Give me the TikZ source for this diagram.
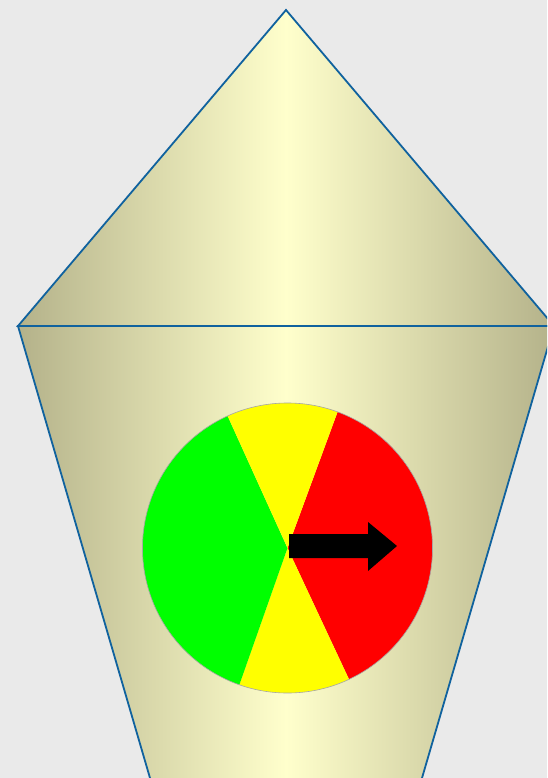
\documentclass[tikz,border=0pt]{standalone}
\begin{document}
\begin{tikzpicture}[x=1pt,y=-1pt]
\definecolor{bgc}{RGB}{234,234,234}
\definecolor{tanc}{RGB}{180,178,138}
\definecolor{lightc}{RGB}{255,255,204}
\definecolor{edgec}{RGB}{16,98,158}
\definecolor{grn}{RGB}{0,255,0}
\definecolor{yel}{RGB}{255,255,0}
\definecolor{rd}{RGB}{255,0,0}
\tikzset{
  body/.style={left color=tanc, right color=tanc, middle color=lightc, draw=edgec, line width=1.8pt, line join=miter}
}
\useasboundingbox (0,0) rectangle (547,778);
\clip (0,0) rectangle (547,778);
\fill[bgc] (0,0) rectangle (547,778);
\coordinate (tl) at (18,326);
\coordinate (tr) at (554,326);
\coordinate (apex) at (286,10);
\coordinate (bl) at (153.5,790);
\coordinate (br) at (418.5,790);
% lower body
\shade[body] (tl) -- (tr) -- (br) -- (bl) -- cycle;
% top triangle
\shade[body] (tl) -- (apex) -- (tr) -- cycle;
% wheel
\coordinate (c) at (287.5,548);
\fill[rd] (c) -- ++(-69.8:145) arc[start angle=-69.8, end angle=64.9, radius=145] -- cycle;
\fill[yel] (c) -- ++(64.9:145) arc[start angle=64.9, end angle=109.4, radius=145] -- cycle;
\fill[grn] (c) -- ++(109.4:145) arc[start angle=109.4, end angle=245.6, radius=145] -- cycle;
\fill[yel] (c) -- ++(245.6:145) arc[start angle=245.6, end angle=290.2, radius=145] -- cycle;
\draw[gray!70, line width=0.6pt] (c) circle[radius=145];
% arrow
\fill[black] (289,534) -- (368,534) -- (368,522) -- (397,546) -- (368,571) -- (368,558) -- (289,558) -- cycle;
\end{tikzpicture}
\end{document}
